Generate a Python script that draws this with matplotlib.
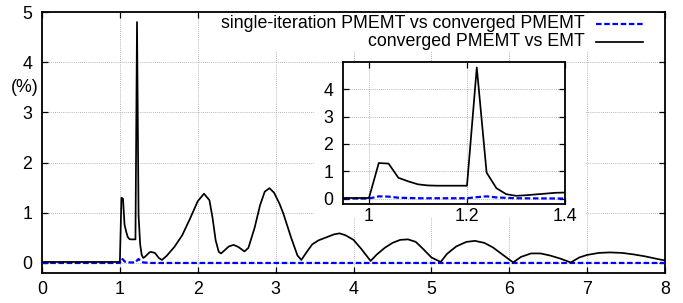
import matplotlib
matplotlib.use("Agg")
import matplotlib.pyplot as plt
from matplotlib.patches import Rectangle
from matplotlib.lines import Line2D

plt.rcParams['font.family'] = ['Liberation Sans', 'DejaVu Sans']

# ---- data ----
emt_x = [0.0, 1.0, 1.02, 1.04, 1.06, 1.08, 1.10, 1.12, 1.14, 1.16, 1.18, 1.20,
         1.22, 1.24, 1.26, 1.28, 1.30, 1.32, 1.34, 1.36, 1.38, 1.40,
         1.45, 1.50, 1.54, 1.60, 1.70, 1.80, 1.90, 2.00, 2.08, 2.15, 2.19, 2.23,
         2.27, 2.30, 2.40, 2.46, 2.52, 2.60, 2.65, 2.73, 2.80, 2.86, 2.92, 2.98,
         3.05, 3.10, 3.20, 3.28, 3.33, 3.40, 3.47, 3.55, 3.65, 3.75, 3.82, 3.90,
         4.00, 4.10, 4.22, 4.30, 4.40, 4.50, 4.60, 4.70, 4.80, 4.90, 5.00, 5.12,
         5.20, 5.32, 5.45, 5.56, 5.68, 5.79, 5.92, 6.05, 6.15, 6.28, 6.40, 6.52,
         6.65, 6.79, 6.90, 7.00, 7.15, 7.29, 7.45, 7.60, 7.75, 7.90, 8.00]
emt_y = [0.02, 0.02, 1.30, 1.28, 0.76, 0.63, 0.52, 0.48, 0.47, 0.47, 0.47, 0.47,
         4.80, 0.95, 0.38, 0.16, 0.10, 0.12, 0.15, 0.18, 0.21, 0.22,
         0.20, 0.10, 0.06, 0.14, 0.32, 0.55, 0.88, 1.23, 1.38, 1.25, 0.90, 0.45,
         0.22, 0.19, 0.33, 0.36, 0.32, 0.23, 0.30, 0.70, 1.15, 1.42, 1.49, 1.40,
         1.18, 0.98, 0.50, 0.15, 0.06, 0.22, 0.37, 0.45, 0.51, 0.57, 0.59, 0.55,
         0.46, 0.28, 0.04, 0.17, 0.30, 0.40, 0.46, 0.47, 0.42, 0.27, 0.11, 0.02,
         0.18, 0.33, 0.42, 0.44, 0.40, 0.31, 0.16, 0.01, 0.12, 0.19, 0.19, 0.15,
         0.09, 0.01, 0.11, 0.16, 0.20, 0.21, 0.20, 0.17, 0.13, 0.08, 0.05]

single_x = [0.0, 1.0, 1.02, 1.04, 1.06, 1.10, 1.20, 1.22, 1.24, 1.26, 1.30, 1.40, 8.0]
single_y = [0.0, 0.0, 0.08, 0.07, 0.03, 0.01, 0.01, 0.05, 0.08, 0.04, 0.01, 0.0, 0.0]

label_single = "single-iteration PMEMT vs converged PMEMT"
label_emt = "converged PMEMT vs EMT"
main_xticks = [0, 1, 2, 3, 4, 5, 6, 7, 8]
main_yticks = [0, 1, 2, 3, 4, 5]
inset_xticks = [1.0, 1.2, 1.4]
inset_xticklabels = ["1", "1.2", "1.4"]
inset_yticks = [0, 1, 2, 3, 4]

W, H = 683, 303
FS = 12.8
fig = plt.figure(figsize=(W / 100, H / 100), dpi=100)

def fbox(l, t, r, b):
    return [l / W, 1 - b / H, (r - l) / W, (b - t) / H]

blue = '#0000ff'
grid_kw = dict(color='#a0a0a0', linestyle=(0, (1, 1.5)), linewidth=0.6)

# ---- main axes ----
ax = fig.add_axes(fbox(42, 12, 665, 273))
ax.plot(single_x, single_y, color=blue, lw=1.6, dashes=(2.5, 1.2), zorder=3)
ax.plot(emt_x, emt_y, color='black', lw=1.25, zorder=4)
ax.set_xlim(0, 8)
ax.set_ylim(-0.2, 5)
ax.set_xticks(main_xticks)
ax.set_yticks(main_yticks)
ax.grid(True, **grid_kw)
ax.tick_params(direction='in', length=4, width=0.9, top=True, right=True,
               labelsize=FS)
ax.tick_params(axis='x', pad=6)
ax.tick_params(axis='y', pad=7)
for s in ax.spines.values():
    s.set_linewidth(1.3)
ax.text(25 / W, 1 - 87 / H, "(%)", transform=fig.transFigure, ha='center',
        va='center', fontsize=FS)

# white areas covering grid (legend box and inset area)
for (l, t, r, b) in [(200, 13, 664, 51), (314, 63, 586, 217)]:
    rect = Rectangle((l / W, 1 - b / H), (r - l) / W, (b - t) / H,
                     transform=fig.transFigure, facecolor='white',
                     edgecolor='none', zorder=1.8)
    ax.add_patch(rect)

# manual right-aligned legend
axw, axh = 623, 261
tx = (585 - 42) / axw
rows = [(label_single, 24, dict(color=blue, lw=1.6, dashes=(2.5, 1.2))),
        (label_emt, 42, dict(color='black', lw=1.25))]
for lab, py, kw in rows:
    ya = 1 - (py - 12) / axh
    ax.text(tx, ya, lab, transform=ax.transAxes, ha='right', va='center',
            fontsize=FS, zorder=5)
    ax.add_line(Line2D([(596 - 42) / axw, (643 - 42) / axw], [ya, ya],
                       transform=ax.transAxes, zorder=5, **kw))

# ---- inset axes ----
ins = fig.add_axes(fbox(343, 62, 565, 204))
ins.plot(single_x, single_y, color=blue, lw=1.6, dashes=(2.5, 1.2), zorder=3)
ins.plot(emt_x, emt_y, color='black', lw=1.25, zorder=4)
ins.set_xlim(0.947, 1.4)
ins.set_ylim(-0.2, 5)
ins.set_xticks(inset_xticks)
ins.set_xticklabels(inset_xticklabels)
ins.set_yticks(inset_yticks)
ins.grid(True, **grid_kw)
ins.tick_params(direction='in', length=4, width=0.9, top=True, right=True,
                labelsize=FS)
ins.tick_params(axis='x', pad=3)
ins.tick_params(axis='y', pad=7)
for s in ins.spines.values():
    s.set_linewidth(1.3)

fig.savefig("out.png", dpi=100)
